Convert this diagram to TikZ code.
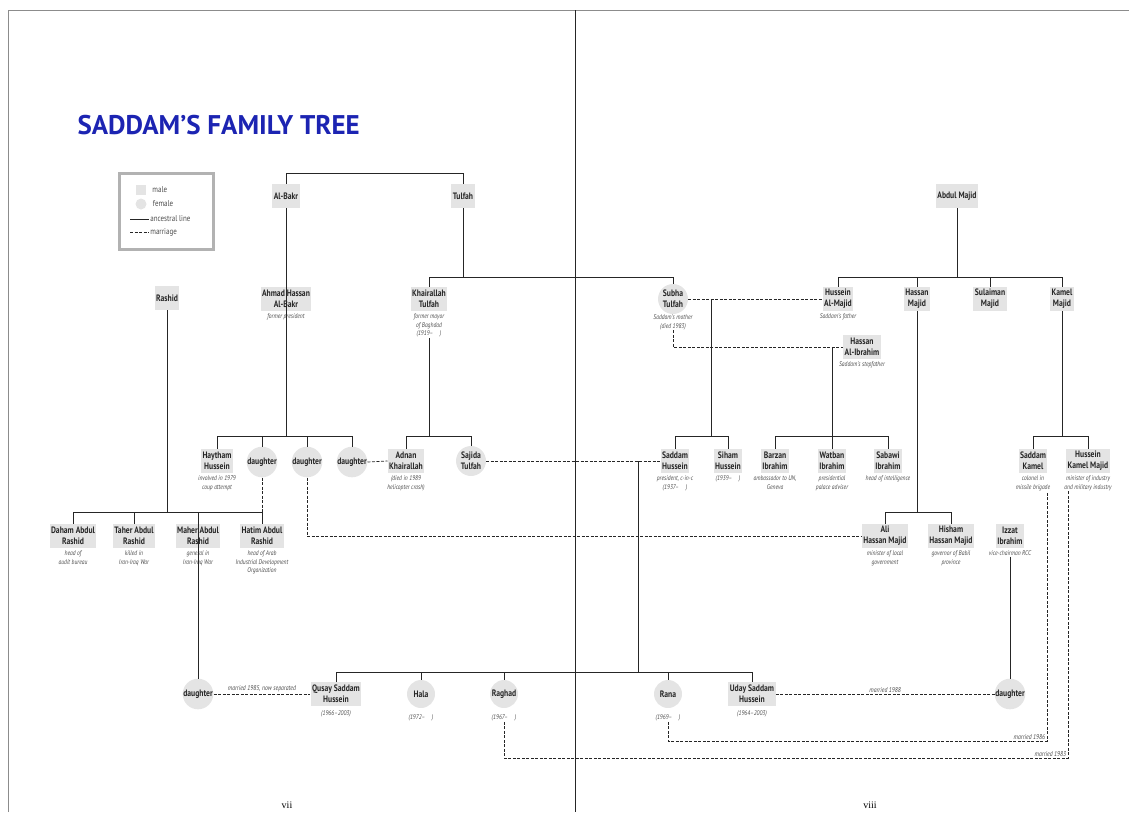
\documentclass[tikz,border=0pt]{standalone}
\usepackage{fontspec}
\setmainfont{PT Sans}[FakeStretch=0.82]
\newfontfamily\titlefont{PT Sans}
\newfontfamily\pagefont{Liberation Serif}
\usetikzlibrary{positioning}
\definecolor{titleblue}{RGB}{28,36,178}
\definecolor{boxgray}{RGB}{228,228,228}

\begin{document}
\begin{tikzpicture}[x=1pt,y=-1pt,
    male/.style={rectangle,fill=boxgray,inner xsep=1.5pt,inner ysep=1pt,minimum height=24pt,align=center,
      text=black!85,font=\fontsize{9.3}{11}\selectfont\bfseries},
    female/.style={circle,fill=boxgray,inner sep=0pt,minimum size=30pt,align=center,
      text=black!85,font=\fontsize{9.3}{11}\selectfont\bfseries},
    desc/.style={inner sep=0.5pt,align=center,text=black!70,font=\fontsize{6.8}{8.5}\selectfont\itshape},
    note/.style={inner sep=1.5pt,text=black!70,font=\fontsize{7}{8}\selectfont\itshape},
    key/.style={inner sep=1pt,text=black!70,font=\fontsize{8.5}{9}\selectfont},
    anc/.style={line width=0.7pt,black!85},
    mar/.style={line width=0.7pt,black!85,dash pattern=on 3pt off 1.5pt}]
    \useasboundingbox (0,0) rectangle (1129,812);
    % page edges and fold
    \draw[black!45, line width=0.6pt] (8,812) |- (1129,10);
    \draw[black!85, line width=0.9pt] (575,10) -- (575,812);
    \node[anchor=west, text=titleblue, font=\titlefont\fontsize{27}{29}\selectfont\bfseries] (title) at (74,125) {SADDAM’S FAMILY TREE};
    % key
    \draw[black!30, line width=3pt] (119,173) rectangle (213,249);
    \node[fill=boxgray, minimum size=10pt, inner sep=0pt] (key-m) at (141,190) {};
    \node[circle, fill=boxgray, minimum size=11pt, inner sep=0pt] (key-f) at (141,204) {};
    \node[key, right=5pt of key-m] {male};
    \node[key, right=5pt of key-f] {female};
    \coordinate (key-a) at (130,219);
    \coordinate (key-d) at (130,232);
    \draw[anc] (key-a) -- ++(19,0) node[key, right] {ancestral line};
    \draw[mar] (key-d) -- ++(19,0) node[key, right] {marriage};

    % first generation
    \node[male] (albakr) at (286,196) {Al-Bakr};
    \node[male] (tulfah) at (463,196) {Tulfah};
    \node[male] (abdulmajid) at (957,196) {Abdul Majid};

    % second generation
    \node[male] (rashid) at (167,298) {Rashid};
    \node[male] (ahmad) at (286,299) {Ahmad Hassan\\Al-Bakr};
    \node[desc, below=2pt of ahmad] (ahmad-d) {former president};
    \node[male] (khairallah) at (429,299) {Khairallah\\Tulfah};
    \node[desc, below=2pt of khairallah] (khairallah-d) {former mayor\\of Baghdad\\(1919–\quad)};
    \node[female] (subha) at (673,299) {Subha\\Tulfah};
    \node[desc, below=0pt of subha] (subha-d) {Saddam’s mother\\(died 1983)};
    \node[male] (husseinmajid) at (838,299) {Hussein\\Al-Majid};
    \node[desc, below=2pt of husseinmajid] (husseinmajid-d) {Saddam’s father};
    \node[male] (hassanmajid) at (917,299) {Hassan\\Majid};
    \node[male] (sulaiman) at (990,299) {Sulaiman\\Majid};
    \node[male] (kamel) at (1062,299) {Kamel\\Majid};
    \node[male] (hassanibrahim) at (862,347) {Hassan\\Al-Ibrahim};
    \node[desc, below=2pt of hassanibrahim] (hassanibrahim-d) {Saddam’s stepfather};

    % third generation
    \node[male] (haytham) at (217,461) {Haytham\\Hussein};
    \node[desc, below=2pt of haytham] (haytham-d) {involved in 1979\\coup attempt};
    \node[female] (dau1) at (262,462) {daughter};
    \node[female] (dau2) at (307,462) {daughter};
    \node[female] (dau3) at (352,462) {daughter};
    \node[male] (adnan) at (406,461) {Adnan\\Khairallah};
    \node[desc, below=2pt of adnan] (adnan-d) {(died in 1989\\helicopter crash)};
    \node[female] (sajida) at (471,461) {Sajida\\Tulfah};
    \node[male] (saddam) at (675,461) {Saddam\\Hussein};
    \node[desc, below=2pt of saddam] (saddam-d) {president, c-in-c\\(1937–\quad)};
    \node[male] (siham) at (728,461) {Siham\\Hussein};
    \node[desc, below=2pt of siham] (siham-d) {(1939–\quad)};
    \node[male] (barzan) at (775,461) {Barzan\\Ibrahim};
    \node[desc, below=2pt of barzan] (barzan-d) {ambassador to UN,\\Geneva};
    \node[male] (watban) at (832,461) {Watban\\Ibrahim};
    \node[desc, below=2pt of watban] (watban-d) {presidential\\palace adviser};
    \node[male] (sabawi) at (888,461) {Sabawi\\Ibrahim};
    \node[desc, below=2pt of sabawi] (sabawi-d) {head of intelligence};
    \node[male] (saddamkamel) at (1033,461) {Saddam\\Kamel};
    \node[desc, below=2pt of saddamkamel] (saddamkamel-d) {colonel in\\missile brigade};
    \node[male] (husseinkamel) at (1088,461) {Hussein\\Kamel Majid};
    \node[desc, below=2pt of husseinkamel] (husseinkamel-d) {minister of industry\\and military industry};

    % fourth generation
    \node[male] (daham) at (73,536) {Daham Abdul\\Rashid};
    \node[desc, below=2pt of daham] (daham-d) {head of\\audit bureau};
    \node[male] (taher) at (134,536) {Taher Abdul\\Rashid};
    \node[desc, below=2pt of taher] (taher-d) {killed in\\Iran-Iraq War};
    \node[male] (maher) at (198,536) {Maher Abdul\\Rashid};
    \node[desc, below=2pt of maher] (maher-d) {general in\\Iran-Iraq War};
    \node[male] (hatim) at (262,536) {Hatim Abdul\\Rashid};
    \node[desc, below=2pt of hatim] (hatim-d) {head of Arab\\Industrial Development\\Organization};
    \node[male] (ali) at (885,536) {Ali\\Hassan Majid};
    \node[desc, below=2pt of ali] (ali-d) {minister of local\\government};
    \node[male] (hisham) at (951,536) {Hisham\\Hassan Majid};
    \node[desc, below=2pt of hisham] (hisham-d) {governor of Babil\\province};
    \node[male] (izzat) at (1010,536) {Izzat\\Ibrahim};
    \node[desc, below=2pt of izzat] (izzat-d) {vice-chairman RCC};

    % fifth generation
    \node[female, minimum size=28pt] (dau4) at (198,694) {daughter};
    \node[male] (qusay) at (336,694) {Qusay Saddam\\Hussein};
    \node[desc, below=4pt of qusay] (qusay-d) {(1966–2003)};
    \node[female, minimum size=28pt] (hala) at (421,694) {Hala};
    \node[desc, below=6pt of hala] (hala-d) {(1972–\quad)};
    \node[female, minimum size=28pt] (raghad) at (504,694) {Raghad};
    \node[desc, below=6pt of raghad] (raghad-d) {(1967–\quad)};
    \node[female, minimum size=28pt] (rana) at (668,694) {Rana};
    \node[desc, below=6pt of rana] (rana-d) {(1969–\quad)};
    \node[male] (uday) at (752,694) {Uday Saddam\\Hussein};
    \node[desc, below=4pt of uday] (uday-d) {(1964–2003)};
    \node[female, minimum size=28pt] (dau5) at (1010,694) {daughter};

    % ancestral lines
    \draw[anc] (albakr.north) |- (tulfah.north |- 0,173) -- (tulfah.north);
    \draw[anc] (albakr.south) -- (albakr |- 0,436);
    \draw[anc] (haytham.north) |- (dau3.north |- 0,436) -- (dau3.north);
    \draw[anc] (dau1.north) -- (dau1 |- 0,436);
    \draw[anc] (dau2.north) -- (dau2 |- 0,436);
    \draw[anc] (tulfah.south) -- (tulfah |- 0,277);
    \draw[anc] (khairallah.north) |- (subha.north |- 0,277) -- (subha.north);
    \draw[anc] (khairallah-d.south) -- (khairallah |- 0,436);
    \draw[anc] (adnan.north) |- (sajida.north |- 0,436) -- (sajida.north);
    \draw[anc] (abdulmajid.south) -- (abdulmajid |- 0,277);
    \draw[anc] (husseinmajid.north) |- (kamel.north |- 0,277) -- (kamel.north);
    \draw[anc] (hassanmajid.north) -- (hassanmajid |- 0,277);
    \draw[anc] (sulaiman.north) -- (sulaiman |- 0,277);
    \draw[anc] (rashid.south) -- (rashid |- 0,512);
    \draw[anc] (daham.north) |- (hatim.north |- 0,512) -- (hatim.north);
    \draw[anc] (taher.north) -- (taher |- 0,512);
    \draw[anc] (maher |- 0,512) -- (dau4.north);
    % Subha's children
    \coordinate (m-sh) at (711,299);
    \draw[anc] (m-sh) -- (m-sh |- 0,436);
    \draw[anc] (saddam.north) |- (siham.north |- 0,436) -- (siham.north);
    \draw[anc] (watban |- hassanibrahim.west) -- (watban.north);
    \draw[anc] (barzan.north) |- (sabawi.north |- 0,436) -- (sabawi.north);
    \draw[anc] (hassanmajid.south) -- (hassanmajid |- 0,512);
    \draw[anc] (ali.north) |- (hisham.north |- 0,512) -- (hisham.north);
    \draw[anc] (kamel.south) -- (kamel |- 0,436);
    \draw[anc] (saddamkamel.north) |- (husseinkamel.north |- 0,436) -- (husseinkamel.north);
    \draw[anc] (izzat-d.south) -- (dau5.north);
    % Saddam's children
    \coordinate (m-ss) at (638,461);
    \draw[anc] (m-ss) -- (m-ss |- 0,672);
    \draw[anc] (qusay.north) |- (uday.north |- 0,672) -- (uday.north);
    \draw[anc] (hala.north) -- (hala |- 0,672);
    \draw[anc] (raghad.north) -- (raghad |- 0,672);
    \draw[anc] (rana.north) -- (rana |- 0,672);

    % marriages
    \draw[mar] (subha.east) -- (husseinmajid.west);
    \draw[mar] (subha-d.south) |- (hassanibrahim.west);
    \draw[mar] (sajida.east) -- (saddam.west);
    \draw[mar] (dau1.south) -- (dau1 |- 0,512);
    \draw[mar] (dau2.south) |- (ali.west);
    \draw[mar] (dau3.east) -- (adnan.west);
    \draw[mar] (dau4.east) -- node[note, above] {married 1985, now separated} (qusay.west);
    \draw[mar] (uday.east) -- node[note, above] {married 1988} (dau5.west);
    \coordinate (sk) at (saddamkamel-d.south -| 1047,0);
    \coordinate (hk) at (husseinkamel-d.south -| 1068,0);
    \draw[mar] (rana-d.south) |- (sk |- 0,741) node[note, above left] {married 1986} -- (sk);
    \draw[mar] (raghad-d.south) |- (hk |- 0,758) node[note, above left] {married 1983} -- (hk);

    % page numbers
    \node[font=\pagefont\fontsize{10}{12}\selectfont] (pg-l) at (287,805) {vii};
    \node[font=\pagefont\fontsize{10}{12}\selectfont] (pg-r) at (870,805) {viii};
\end{tikzpicture}
\end{document}
